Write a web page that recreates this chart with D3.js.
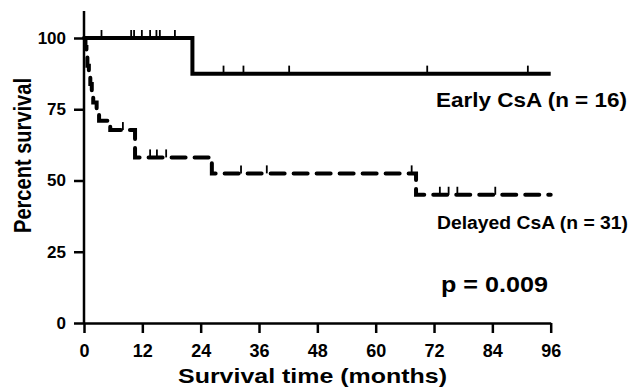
<!DOCTYPE html>
<html>
<head>
<meta charset="utf-8">
<script src="https://cdn.jsdelivr.net/npm/d3@7"></script>
<style>
  body { margin: 0; background: #fff; }
  svg text { font-family: "Liberation Sans", Arial, sans-serif; font-weight: bold; fill: #000; }
</style>
</head>
<body>
<div id="chart"></div>
<script>
// Kaplan-Meier steps (months, percent)
const earlyTimes = [0, 22.3, 96];
const earlySurv = [100, 87.5, 87.5];
const earlyCensored = [3.6, 9.7, 10.3, 11.9, 13.6, 14.9, 15.6, 18.7, 28.7, 32.8, 42.2, 70.6, 91.3];

const delayedTimes = [0, 0.3, 0.5, 0.7, 1.0, 1.3, 1.6, 1.9, 2.6, 3.1, 5.4, 10.5, 26.3, 68.3, 96];
const delayedSurv = [100, 96.8, 93.5, 90.3, 87.1, 83.9, 80.6, 77.4, 74.2, 71.0, 67.7, 58.1, 52.5, 45.0, 45.0];
const delayedCensored = [8.0, 13.6, 15.0, 16.9, 32.3, 37.6, 67.4, 73.2, 75.0, 76.8, 84.6];

const xTicks = [0, 12, 24, 36, 48, 60, 72, 84, 96];
const yTicks = [0, 25, 50, 75, 100];

const width = 633, height = 389;
const svg = d3.select('#chart').append('svg')
  .attr('width', width)
  .attr('height', height);

const x = d3.scaleLinear().domain([0, 96]).range([84, 550.7]);
const y = d3.scaleLinear().domain([0, 100]).range([323, 38]);

// axes
const yAxis = svg.append('g')
  .attr('transform', 'translate(84,0)')
  .call(d3.axisLeft(y).tickValues(yTicks).tickSize(10).tickPadding(8).tickSizeOuter(0));
yAxis.select('.domain').remove();
yAxis.append('line')
  .attr('x1', 0).attr('x2', 0)
  .attr('y1', y(0)).attr('y2', y(109.5))
  .attr('stroke', '#000').attr('stroke-width', 2.5);

const xAxis = svg.append('g')
  .attr('transform', 'translate(0,323)')
  .call(d3.axisBottom(x).tickValues(xTicks).tickSize(10).tickPadding(11).tickSizeOuter(0));

svg.selectAll('.tick line').attr('stroke', '#000').attr('stroke-width', 2.5);
xAxis.select('.domain').attr('stroke', '#000').attr('stroke-width', 2.5);
yAxis.selectAll('.tick text').style('font-size', '17px');
xAxis.selectAll('.tick text').style('font-size', '18px');

function stepAt(times, surv, t) {
  let v = surv[0];
  for (let i = 0; i < times.length; i++) if (times[i] <= t) v = surv[i];
  return v;
}

const line = d3.line()
  .x(d => x(d[0]))
  .y(d => y(d[1]))
  .curve(d3.curveStepAfter);

// Early CsA, solid
svg.append('path')
  .datum(earlyTimes.map((t, i) => [t, earlySurv[i]]))
  .attr('d', line)
  .attr('fill', 'none')
  .attr('stroke', '#000')
  .attr('stroke-width', 4);

// Delayed CsA, dashed
svg.append('path')
  .datum(delayedTimes.map((t, i) => [t, delayedSurv[i]]))
  .attr('d', line)
  .attr('fill', 'none')
  .attr('stroke', '#000')
  .attr('stroke-width', 4)
  .attr('stroke-linecap', 'round')
  .attr('stroke-dasharray', '14,9');

// censor ticks
function drawCensor(ts, times, surv) {
  svg.append('g').selectAll('line')
    .data(ts)
    .join('line')
    .attr('x1', d => x(d)).attr('x2', d => x(d))
    .attr('y1', d => y(stepAt(times, surv, d)))
    .attr('y2', d => y(stepAt(times, surv, d)) - 8)
    .attr('stroke', '#000')
    .attr('stroke-width', 1.8);
}
drawCensor(earlyCensored, earlyTimes, earlySurv);
drawCensor(delayedCensored, delayedTimes, delayedSurv);

// labels
svg.append('text')
  .attr('x', 436).attr('y', 107)
  .attr('textLength', 191).attr('lengthAdjust', 'spacingAndGlyphs')
  .style('font-size', '20px')
  .text('Early CsA (n = 16)');

svg.append('text')
  .attr('x', 437).attr('y', 229)
  .attr('textLength', 191).attr('lengthAdjust', 'spacingAndGlyphs')
  .style('font-size', '18px')
  .text('Delayed CsA (n = 31)');

svg.append('text')
  .attr('x', 441).attr('y', 292)
  .attr('textLength', 107).attr('lengthAdjust', 'spacingAndGlyphs')
  .style('font-size', '22px')
  .text('p = 0.009');

svg.append('text')
  .attr('x', 178).attr('y', 383)
  .attr('textLength', 269).attr('lengthAdjust', 'spacingAndGlyphs')
  .style('font-size', '21px')
  .text('Survival time (months)');

svg.append('text')
  .attr('transform', 'translate(31,233) rotate(-90)')
  .attr('textLength', 155).attr('lengthAdjust', 'spacingAndGlyphs')
  .style('font-size', '24px')
  .text('Percent survival');
</script>
</body>
</html>
